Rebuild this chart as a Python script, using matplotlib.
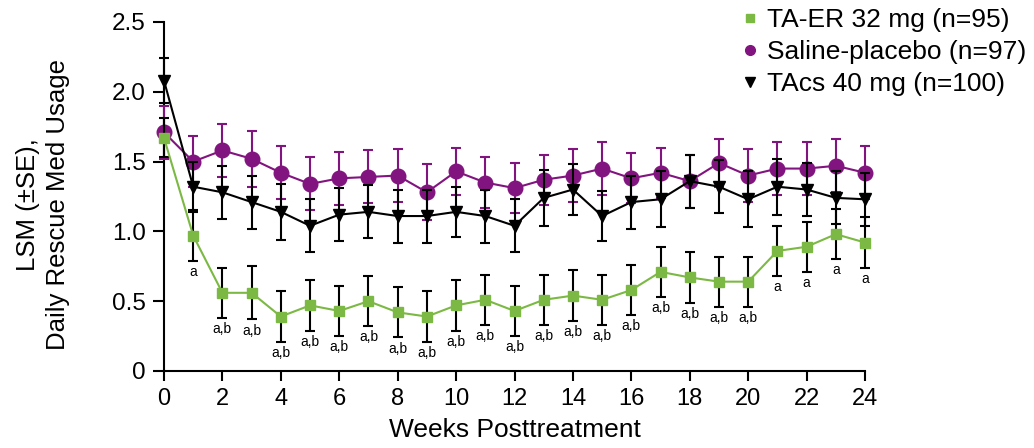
import numpy as np
import matplotlib
matplotlib.use("Agg")
import matplotlib.pyplot as plt
from matplotlib.lines import Line2D

# Data
weeks = np.arange(0, 25)

ta_er = [1.67, 0.97, 0.56, 0.56, 0.39, 0.47, 0.43, 0.50, 0.42, 0.39, 0.47, 0.51, 0.43,
         0.51, 0.54, 0.51, 0.58, 0.71, 0.67, 0.64, 0.64, 0.86, 0.89, 0.98, 0.92]
ta_er_se = [0.14, 0.18, 0.18, 0.19, 0.18, 0.18, 0.18, 0.18, 0.18, 0.18, 0.18, 0.18, 0.18,
            0.18, 0.18, 0.18, 0.18, 0.18, 0.18, 0.18, 0.18, 0.18, 0.18, 0.18, 0.18]

placebo = [1.71, 1.50, 1.58, 1.52, 1.42, 1.34, 1.38, 1.39, 1.40, 1.28, 1.43, 1.35, 1.31,
           1.37, 1.40, 1.45, 1.38, 1.42, 1.36, 1.49, 1.40, 1.45, 1.45, 1.47, 1.42]
placebo_se = [0.19, 0.18, 0.19, 0.20, 0.19, 0.19, 0.19, 0.19, 0.19, 0.20, 0.17, 0.18, 0.18,
              0.18, 0.19, 0.19, 0.18, 0.18, 0.19, 0.17, 0.19, 0.19, 0.19, 0.19, 0.19]

tacs = [2.08, 1.32, 1.28, 1.21, 1.14, 1.04, 1.12, 1.14, 1.11, 1.11, 1.14, 1.11, 1.04,
        1.24, 1.30, 1.11, 1.21, 1.23, 1.36, 1.32, 1.23, 1.32, 1.30, 1.24, 1.23]
tacs_se = [0.16, 0.18, 0.19, 0.19, 0.20, 0.19, 0.19, 0.19, 0.19, 0.19, 0.18, 0.19, 0.19,
           0.20, 0.18, 0.18, 0.19, 0.20, 0.19, 0.19, 0.20, 0.20, 0.19, 0.19, 0.19]

sig_labels = [""] + ["a"] + ["a,b"] * 19 + ["a"] * 4

legend_labels = ["TA-ER 32 mg (n=95)", "Saline-placebo (n=97)", "TAcs 40 mg (n=100)"]

green = "#7cb944"
purple = "#82147f"

plt.rcParams["font.family"] = ["Liberation Sans", "DejaVu Sans"]

fig = plt.figure(figsize=(10.34, 4.48), dpi=100)
ax = fig.add_axes([0.1586, 0.1719, 0.678, 0.779])

err_kw = dict(lw=1.5, elinewidth=1.5, capsize=3.5, capthick=1.5, clip_on=False)
ax.errorbar(weeks, placebo, yerr=placebo_se, color=purple, ecolor=purple, marker="o",
            markersize=10.5, zorder=3, **err_kw)
ax.errorbar(weeks, tacs, yerr=tacs_se, color="black", ecolor="black", marker="v",
            markersize=8, zorder=4, **err_kw)
ax.errorbar(weeks, ta_er, yerr=ta_er_se, color=green, ecolor="black", marker="s",
            markersize=7.5, zorder=5, **err_kw)

for w, v, s, lab in zip(weeks, ta_er, ta_er_se, sig_labels):
    if lab:
        ax.annotate(lab, (w, v - s), xytext=(0, -3), textcoords="offset points",
                    ha="center", va="top", fontsize=10)

ax.set_xlim(0, 24)
ax.set_ylim(0, 2.5)
ax.set_xticks(range(0, 25, 2))
ax.set_yticks([0, 0.5, 1.0, 1.5, 2.0, 2.5])
ax.set_yticklabels(["0", "0.5", "1.0", "1.5", "2.0", "2.5"])

for side in ["top", "right"]:
    ax.spines[side].set_visible(False)
for side in ["left", "bottom"]:
    ax.spines[side].set_linewidth(1.5)
ax.tick_params(axis="y", direction="out", length=8, width=1.5, labelsize=17.5, pad=5)
ax.tick_params(axis="x", direction="out", length=7, width=1.5, labelsize=17, pad=5)

ax.set_xlabel("Weeks Posttreatment", fontsize=19, labelpad=6)
ax.set_ylabel("LSM (\u00b1SE),\nDaily Rescue Med Usage", fontsize=18.5, linespacing=1.3)
ax.yaxis.set_label_coords(-0.134, 0.476)

handles = [
    Line2D([], [], ls="none", marker="s", color=green, markersize=6),
    Line2D([], [], ls="none", marker="o", color=purple, markersize=7),
    Line2D([], [], ls="none", marker="v", color="black", markersize=6.5),
]
ax.legend(handles, legend_labels, loc="upper left", bbox_to_anchor=(0.81, 1.07),
          frameon=False, fontsize=19, handlelength=0.6, handletextpad=0.35,
          labelspacing=0.3, borderaxespad=0)

fig.savefig("out.png", dpi=100)
